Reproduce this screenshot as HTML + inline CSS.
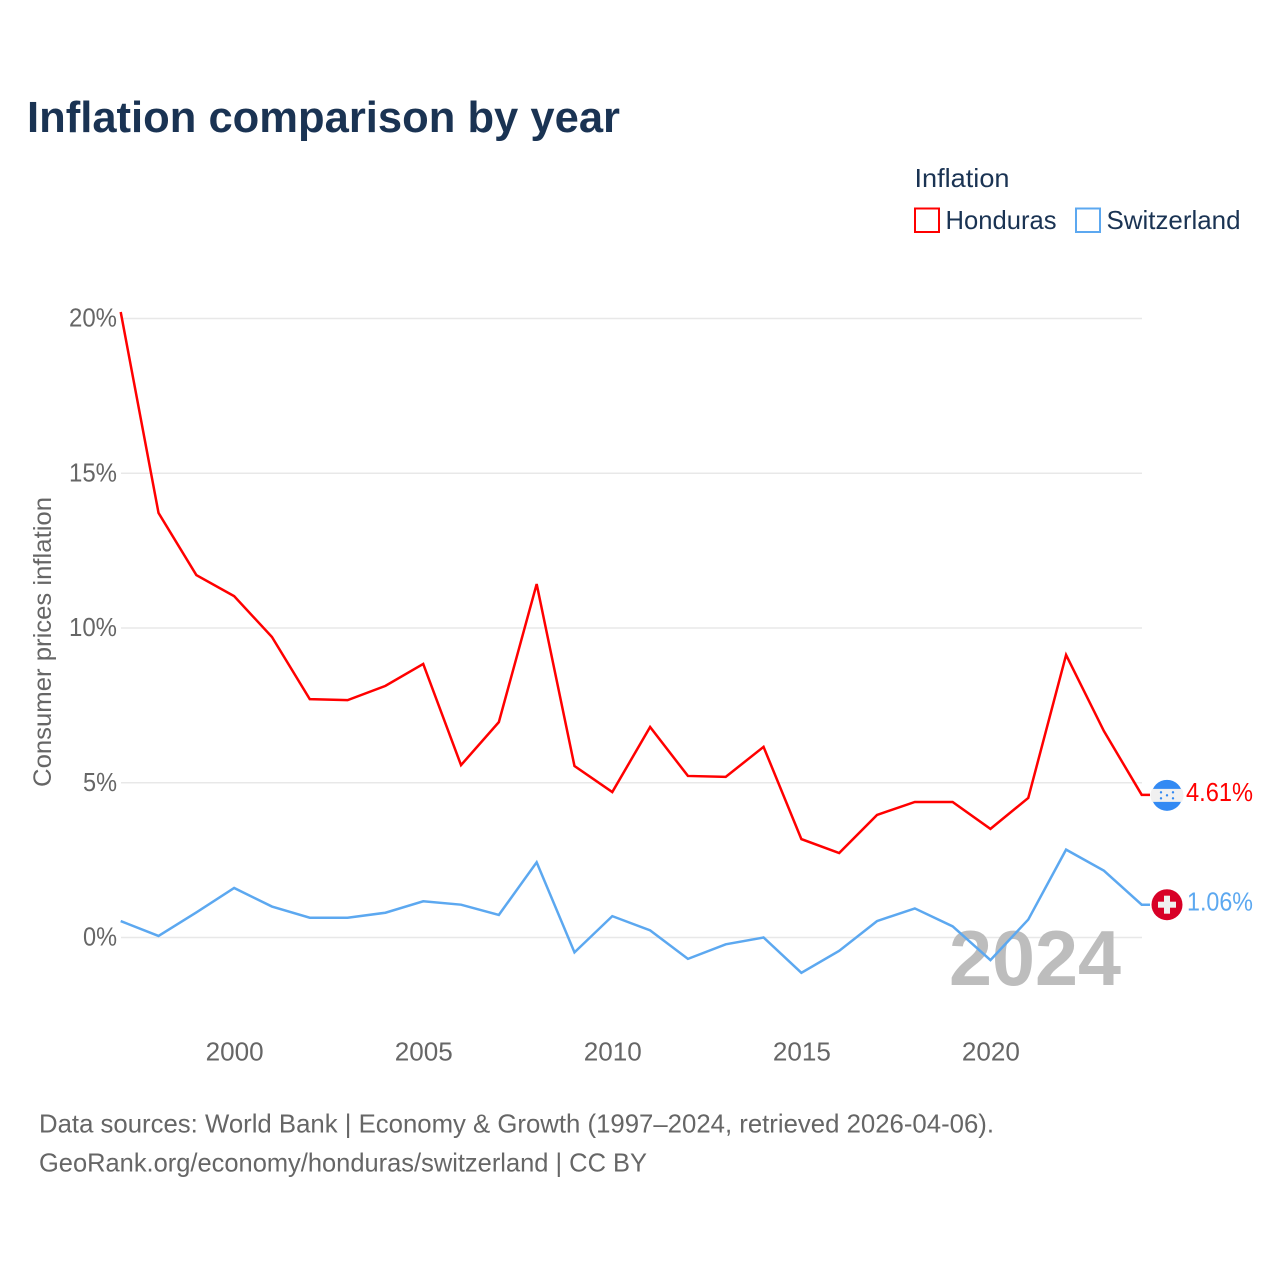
<!DOCTYPE html>
<html lang="en">
<head>
<meta charset="utf-8">
<title>Inflation comparison by year</title>
<style>
html,body{margin:0;padding:0;background:#fff;}
svg{display:block;font-family:"Liberation Sans",sans-serif;}
</style>
</head>
<body>
<svg id="chart" xmlns="http://www.w3.org/2000/svg" width="1280" height="1280" viewBox="0 0 1280 1280">
  <rect x="0" y="0" width="1280" height="1280" fill="#fff"/>
  <text x="27" y="132" font-size="44" font-weight="700" fill="#1a3353" textLength="593" lengthAdjust="spacingAndGlyphs">Inflation comparison by year</text>
  <g>
    <text x="914.500" y="187" font-size="26" fill="#1a3353" textLength="95" lengthAdjust="spacingAndGlyphs">Inflation</text>
    <rect x="915" y="208.500" width="24" height="23.500" fill="none" stroke="#ff0000" stroke-width="2"/>
    <text x="945.500" y="229" font-size="26" fill="#1a3353" textLength="111" lengthAdjust="spacingAndGlyphs">Honduras</text>
    <rect x="1076" y="208.500" width="24" height="23.500" fill="none" stroke="#5ca8f0" stroke-width="2"/>
    <text x="1106.500" y="229" font-size="26" fill="#1a3353" textLength="134" lengthAdjust="spacingAndGlyphs">Switzerland</text>
  </g>
  <g id="grid"></g>
  <g id="yticks"></g>
  <g id="xticks"></g>
  <text transform="translate(51,642) rotate(-90)" text-anchor="middle" font-size="25" fill="#666" textLength="290" lengthAdjust="spacingAndGlyphs">Consumer prices inflation</text>
  <text x="949" y="985" font-size="78" font-weight="700" fill="#bdbdbd" textLength="172" lengthAdjust="spacingAndGlyphs">2024</text>
  <g id="series"></g>
  <g id="endmarks"></g>
  <text x="39" y="1132.500" font-size="26" fill="#666" textLength="955" lengthAdjust="spacingAndGlyphs">Data sources: World Bank | Economy &amp; Growth (1997–2024, retrieved 2026-04-06).</text>
  <text x="39" y="1171.500" font-size="26" fill="#666" textLength="608" lengthAdjust="spacingAndGlyphs">GeoRank.org/economy/honduras/switzerland | CC BY</text>
</svg>
<script>
const years = [1997,1998,1999,2000,2001,2002,2003,2004,2005,2006,2007,2008,2009,2010,2011,2012,2013,2014,2015,2016,2017,2018,2019,2020,2021,2022,2023,2024];
const honduras = [20.21,13.72,11.71,11.03,9.71,7.70,7.67,8.13,8.84,5.57,6.96,11.42,5.54,4.70,6.80,5.22,5.19,6.16,3.18,2.73,3.96,4.38,4.38,3.51,4.51,9.13,6.67,4.61];
const switzerland = [0.53,0.05,0.81,1.60,1.00,0.64,0.64,0.80,1.17,1.06,0.73,2.43,-0.48,0.69,0.23,-0.69,-0.22,0.00,-1.14,-0.43,0.53,0.94,0.36,-0.73,0.58,2.84,2.16,1.06];
const yTickValues = [0,5,10,15,20];
const xTickValues = [2000,2005,2010,2015,2020];

const NS = 'http://www.w3.org/2000/svg';
const xScale = function (year) { return 120.700 + (year - 1997) * 37.815; };
const yScale = function (value) { return 937.500 - value * 30.950; };
function make(tag, parent, attrs, text) {
  const el = document.createElementNS(NS, tag);
  for (const k in attrs) { el.setAttribute(k, attrs[k]); }
  if (text !== undefined) { el.textContent = text; }
  parent.appendChild(el);
  return el;
}

const grid = document.getElementById('grid');
const yticks = document.getElementById('yticks');
yTickValues.forEach(function (v) {
  const line = make('line', grid, {x1: 121, x2: 1142, y1: yScale(v), y2: yScale(v), stroke: '#e8e8e8', 'stroke-width': 1.500});
  
  
  const label = v + '%';
  const t = make('text', yticks, {x: 117, y: yScale(v) + 8, 'text-anchor': 'end', 'font-size': 26, fill: '#666', textLength: label.length === 3 ? 48 : 34, lengthAdjust: 'spacingAndGlyphs'}, label);
  
  
});

const xticks = document.getElementById('xticks');
xTickValues.forEach(function (yr) {
  const t = make('text', xticks, {x: xScale(yr) + 0.500, y: 1060.500, 'text-anchor': 'middle', 'font-size': 26, fill: '#666', textLength: 58, lengthAdjust: 'spacingAndGlyphs'}, String(yr));
  
  
});

const seriesGroup = document.getElementById('series');
const endmarks = document.getElementById('endmarks');

function pathFor(values) {
  const pts = values.map(function (v, i) { return xScale(years[i]).toFixed(2) + ',' + yScale(v).toFixed(2); });
  const last = values[values.length - 1];
  pts.push('1150,' + yScale(last).toFixed(2));
  return 'M' + pts.join('L');
}

const hondurasLine = make('path', seriesGroup, {d: pathFor(honduras), fill: 'none', stroke: '#ff0000', 'stroke-width': 2.500, 'stroke-linejoin': 'miter'});



const swissLine = make('path', seriesGroup, {d: pathFor(switzerland), fill: 'none', stroke: '#5ca8f0', 'stroke-width': 2.500, 'stroke-linejoin': 'miter'});



/* Honduras end marker */
const hLast = honduras[honduras.length - 1];
const hy = yScale(hLast) + 0.500;
const hFlag = make('g', endmarks, {transform: 'translate(1167,' + hy + ')'});


make('circle', hFlag, {cx: 0, cy: 0, r: 15.500, fill: '#338af3'});
make('path', hFlag, {d: 'M-15 -6.500H15A15.500 15.500 0 0 1 15 6.500H-15A15.500 15.500 0 0 1 -15 -6.500Z', fill: '#f0f0f0'});
[[-6,-3],[6,-3],[0,0],[-6,3],[6,3]].forEach(function (p) {
  make('circle', hFlag, {cx: p[0], cy: p[1], r: 1.200, fill: '#338af3'});
});
const hLabel = make('text', endmarks, {x: 1186, y: yScale(hLast) + 8, 'font-size': 26, fill: '#ff0000', textLength: 67, lengthAdjust: 'spacingAndGlyphs', dy: -2}, hLast.toFixed(2) + '%');



/* Switzerland end marker */
const sLast = switzerland[switzerland.length - 1];
const sy = yScale(sLast);
const sFlag = make('g', endmarks, {transform: 'translate(1167,' + sy + ')'});


make('circle', sFlag, {cx: 0, cy: 0, r: 15.500, fill: '#d80027'});
make('rect', sFlag, {x: -9, y: -3, width: 18, height: 6, fill: '#f0f0f0'});
make('rect', sFlag, {x: -3, y: -9, width: 6, height: 18, fill: '#f0f0f0'});
const sLabel = make('text', endmarks, {x: 1187, y: sy + 8, 'font-size': 26, fill: '#5ca8f0', textLength: 66, lengthAdjust: 'spacingAndGlyphs', dy: -2}, sLast.toFixed(2) + '%');


</script>
</body>
</html>
